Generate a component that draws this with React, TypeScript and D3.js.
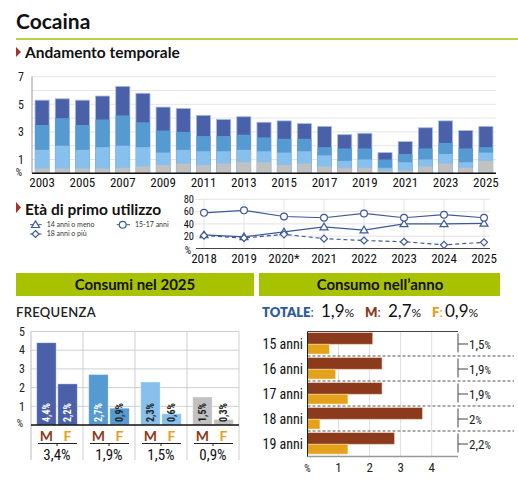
import * as d3 from "d3";
import * as React from "react";

// serie storica (valori in %)
const years = ["2003", "2004", "2005", "2006", "2007", "2008", "2009", "2010", "2011", "2012", "2013", "2014", "2015", "2016", "2017", "2018", "2019", "2020", "2021", "2022", "2023", "2024", "2025"];
const lifetime = [5.3, 5.4, 5.3, 5.6, 6.3, 5.8, 4.8, 4.7, 4.2, 3.9, 4.1, 3.7, 3.8, 3.6, 3.4, 2.8, 2.9, 1.5, 2.3, 3.3, 3.8, 3.1, 3.4];
const lastYear = [3.5, 4.0, 3.5, 3.9, 4.2, 3.7, 3.1, 3.0, 2.7, 2.7, 2.8, 2.6, 2.5, 2.5, 1.9, 1.8, 1.8, 1.0, 1.4, 1.8, 2.2, 1.8, 1.9];
const lastMonth = [1.7, 2.0, 1.7, 1.9, 2.0, 1.9, 1.5, 1.7, 1.6, 1.6, 1.7, 1.6, 1.5, 1.6, 1.3, 0.9, 1.0, 0.4, 0.8, 1.0, 1.4, 0.8, 1.5];
const frequent = [0.35, 0.35, 0.35, 0.35, 0.4, 0.5, 0.6, 0.7, 0.6, 0.7, 0.8, 0.8, 0.6, 0.7, 0.5, 0.4, 0.4, 0.2, 0.2, 0.5, 0.7, 0.4, 0.9];
const topTicks = [1, 3, 5, 7];

// età di primo utilizzo
const lineYears = ["2018", "2019", "2020*", "2021", "2022", "2023", "2024", "2025"];
const under14 = [22, 19, 27, 35, 30, 40, 40, 41];
const age15to17 = [58, 62, 52, 50, 57, 50, 55, 50];
const over18 = [21, 17, 23, 16, 13, 11, 6, 10];
const lineTicks = [20, 40, 60, 80];

// consumi nel 2025 - frequenza
const freqTotals = ["3,4%", "1,9%", "1,5%", "0,9%"];
const freqMale = [4.4, 2.7, 2.3, 1.5];
const freqFemale = [2.2, 0.9, 0.6, 0.3];
const freqMaleLabels = ["4,4%", "2,7%", "2,3%", "1,5%"];
const freqFemaleLabels = ["2,2%", "0,9%", "0,6%", "0,3%"];
const freqTicks = [1, 2, 3, 4, 5];

// consumo nell'anno per età
const ages = ["15 anni", "16 anni", "17 anni", "18 anni", "19 anni"];
const ageMale = [2.1, 2.4, 2.4, 3.7, 2.8];
const ageFemale = [0.7, 0.9, 1.3, 0.4, 1.3];
const ageTotals = ["1,5", "1,9", "1,9", "2", "2,2"];
const ageTicks = [1, 2, 3, 4];

const HEAD = "Lato, 'Noto Sans', sans-serif";
const NUM = "'Liberation Sans Narrow', 'Roboto Condensed', Lato, sans-serif";
const GREEN = "#a9c200";
const LINE = "#3c5a9a";
const levelColors = ["#4a61a9", "#559bd1", "#87c0ec", "#c1c1c1"];
const BROWN = "#8b3b1c";
const ORANGE = "#e4a11b";

function Marker({ x, y, shape }) {
  if (shape === "circle") return <circle cx={x} cy={y} r={3.4} fill="#fff" stroke={LINE} strokeWidth={1.2} />;
  if (shape === "triangle")
    return <path d={`M${x},${y - 3.8}L${x + 4},${y + 2.8}L${x - 4},${y + 2.8}Z`} fill="#fff" stroke={LINE} strokeWidth={1.2} />;
  return <path d={`M${x},${y - 3.5}L${x + 3.5},${y}L${x},${y + 3.5}L${x - 3.5},${y}Z`} fill="#fff" stroke={LINE} strokeWidth={1.2} />;
}

export default function App() {
  // --- andamento temporale
  const x = d3.scaleBand().domain(years).range([32, 496]).paddingInner(0.3).paddingOuter(0.15);
  const y = d3.scaleLinear().domain([0, 7]).range([173.3, 76.7]);
  const levels = [lifetime, lastYear, lastMonth, frequent];

  // --- età di primo utilizzo
  const lx = d3.scalePoint().domain(lineYears).range([204, 484]);
  const ly = d3.scaleLinear().domain([0, 80]).range([248.5, 199.3]);
  const line = d3.line().x((d) => d[0]).y((d) => d[1]);
  const series = [
    { values: under14, shape: "triangle", dash: null },
    { values: age15to17, shape: "circle", dash: null },
    { values: over18, shape: "diamond", dash: "4,3" },
  ];

  // --- frequenza
  const fx = d3.scaleBand().domain(freqTotals).range([31, 239]);
  const fsub = d3.scaleBand().domain(["M", "F"]).range([5.7, 46.3]).paddingInner(0.08);
  const fy = d3.scaleLinear().domain([0, 5]).range([425, 331.5]);

  // --- consumo nell'anno
  const ax = d3.scaleLinear().domain([0, 4]).range([307.5, 431.7]);
  const ay = d3.scaleBand().domain(ages).range([331.5, 456.5]);

  return (
    <svg width={518} height={484} style={{ position: "absolute", left: 0, top: 0, background: "#fff" }}>
      {/* titolo */}
      <text x={16} y={29} fontFamily={HEAD} fontWeight={700} fontSize={21} fill="#111">Cocaina</text>
      <line x1={16} x2={518} y1={39} y2={39} stroke={GREEN} strokeWidth={1.5} />

      <path d="M16,47L21,52L16,57Z" fill="#a4342a" />
      <text x={25} y={58} fontFamily={HEAD} fontWeight={700} fontSize={15.5} fill="#111">Andamento temporale</text>

      {/* griglia */}
      {[1, 2, 3, 4, 5, 6, 7].map((t) => (
        <line key={t} x1={32} x2={496} y1={y(t)} y2={y(t)} stroke="#e6e6e6" />
      ))}
      <line x1={32} x2={32} y1={y(7)} y2={y(0)} stroke="#999" />
      {levels.map((vals, li) =>
        vals.map((v, i) => (
          <rect
            key={li + "-" + i}
            x={x(years[i])}
            y={y(v)}
            width={x.bandwidth()}
            height={y(0) - y(v)}
            fill={levelColors[li]}
            stroke={li === 0 ? "#aabde0" : "none"}
            strokeWidth={0.8}
          />
        ))
      )}
      <line x1={32} x2={496} y1={y(0)} y2={y(0)} stroke="#111" strokeWidth={1.5} />
      {topTicks.map((t) => (
        <text key={t} x={21} y={y(t)} dy="0.35em" textAnchor="middle" fontFamily={NUM} fontSize={12} fill="#222">{t}</text>
      ))}
      <text x={19} y={176} textAnchor="middle" fontFamily={NUM} fontSize={10} fill="#222">%</text>
      {years.filter((d, i) => i % 2 === 0).map((d) => (
        <text key={d} x={x(d) + x.bandwidth() / 2} y={187} textAnchor="middle" fontFamily={NUM} fontSize={13} fill="#111">{d}</text>
      ))}

      {/* età di primo utilizzo */}
      <path d="M16,202L21,207.5L16,213Z" fill="#a4342a" />
      <text x={25} y={215} fontFamily={HEAD} fontWeight={700} fontSize={15.5} fill="#111">Età di primo utilizzo</text>
      <line x1={30} x2={41.7} y1={224.7} y2={224.7} stroke={LINE} />
      <Marker x={35.5} y={224.7} shape="triangle" />
      <text x={46.7} y={227} fontFamily={HEAD} fontSize={7} fill="#333">14 anni o meno</text>
      <line x1={116.7} x2={130} y1={224.7} y2={224.7} stroke={LINE} />
      <Marker x={122.7} y={224.7} shape="circle" />
      <text x={135} y={227} fontFamily={HEAD} fontSize={7} fill="#333">15-17 anni</text>
      <line x1={30} x2={41.7} y1={234} y2={234} stroke={LINE} />
      <Marker x={35.5} y={234} shape="diamond" />
      <text x={46.7} y={236.3} fontFamily={HEAD} fontSize={7} fill="#333">18 anni o più</text>

      {lineTicks.map((t) => (
        <line key={t} x1={196} x2={490} y1={ly(t)} y2={ly(t)} stroke="#e3e3e3" />
      ))}
      {lineYears.map((d) => (
        <line key={d} x1={lx(d)} x2={lx(d)} y1={ly(80)} y2={ly(0)} stroke="#e3e3e3" />
      ))}
      <line x1={196} x2={490} y1={ly(0)} y2={ly(0)} stroke="#444" strokeWidth={1.2} />
      {lineTicks.map((t) => (
        <text key={t} x={194} y={ly(t)} dy="0.35em" textAnchor="end" fontFamily={NUM} fontSize={10.5} fill="#111">{t}</text>
      ))}
      <text x={188} y={254} textAnchor="middle" fontFamily={NUM} fontSize={10} fill="#111">%</text>
      {lineYears.map((d) => (
        <text key={d} x={lx(d)} y={263} textAnchor="middle" fontFamily={NUM} fontSize={13} fill="#111">{d}</text>
      ))}
      {series.map((s, si) => (
        <g key={si}>
          <path
            d={line(s.values.map((v, i) => [lx(lineYears[i]), ly(v)]))}
            fill="none"
            stroke={LINE}
            strokeWidth={1.2}
            strokeDasharray={s.dash || undefined}
          />
          {s.values.map((v, i) => (
            <Marker key={i} x={lx(lineYears[i])} y={ly(v)} shape={s.shape} />
          ))}
        </g>
      ))}

      {/* consumi nel 2025 */}
      <rect x={16} y={273} width={238} height={23} fill={GREEN} />
      <text x={135} y={290} textAnchor="middle" fontFamily={HEAD} fontWeight={700} fontSize={15} fill="#111">Consumi nel 2025</text>
      <text x={16} y={317} fontFamily={HEAD} fontWeight={600} fontSize={13} letterSpacing={0.3} fill="#222">FREQUENZA</text>

      {freqTicks.map((t) => (
        <line key={t} x1={31} x2={239} y1={fy(t)} y2={fy(t)} stroke="#cfcfcf" />
      ))}
      {freqTotals.map((d) => (
        <line key={d} x1={fx(d) + fx.bandwidth()} x2={fx(d) + fx.bandwidth()} y1={fy(5)} y2={460} stroke="#cfcfcf" />
      ))}
      <line x1={31} x2={31} y1={fy(5)} y2={460} stroke="#bbb" />
      {freqTotals.map((d, i) => {
        const g0 = fx(d);
        const bars = [
          { k: "M", v: freqMale[i], lab: freqMaleLabels[i], white: i === 0 || i === 1 },
          { k: "F", v: freqFemale[i], lab: freqFemaleLabels[i], white: i === 0 },
        ];
        return (
          <g key={d}>
            {bars.map((b) => {
              const bx = g0 + fsub(b.k);
              const cx = bx + fsub.bandwidth() / 2;
              return (
                <g key={b.k}>
                  <rect x={bx} y={fy(b.v)} width={fsub.bandwidth()} height={fy(0) - fy(b.v)} fill={levelColors[i]} stroke="#fff" strokeOpacity={0.5} strokeWidth={0.8} />
                  <text
                    transform={`translate(${cx},${fy(0) - 3}) rotate(-90)`}
                    dy="0.35em"
                    fontFamily={NUM}
                    fontWeight={700}
                    fontSize={10}
                    fill={b.white ? "#fff" : "#222"}
                  >
                    {b.lab}
                  </text>
                  <text x={cx} y={441} textAnchor="middle" fontFamily={HEAD} fontWeight={700} fontSize={14} fill={b.k === "M" ? BROWN : ORANGE}>{b.k}</text>
                </g>
              );
            })}
            <line x1={g0 + 7} x2={g0 + 46} y1={443.5} y2={443.5} stroke="#222" />
            <line x1={g0 + 26} x2={g0 + 26} y1={443.5} y2={446} stroke="#222" />
            <text x={g0 + 26} y={460} textAnchor="middle" fontFamily={NUM} fontSize={15} fill="#111">{d}</text>
          </g>
        );
      })}
      <line x1={31} x2={239} y1={fy(0)} y2={fy(0)} stroke="#111" strokeWidth={1.5} />
      {freqTicks.map((t) => (
        <text key={t} x={22} y={fy(t)} dy="0.35em" textAnchor="middle" fontFamily={NUM} fontSize={12} fill="#222">{t}</text>
      ))}
      <text x={20} y={427} textAnchor="middle" fontFamily={NUM} fontSize={10} fill="#222">%</text>

      {/* consumo nell'anno */}
      <rect x={259} y={273} width={241} height={23} fill={GREEN} />
      <text x={380} y={290} textAnchor="middle" fontFamily={HEAD} fontWeight={700} fontSize={15} fill="#111">Consumo nell’anno</text>
      <text y={317} fontFamily={HEAD} fill="#111">
        <tspan x={262} fontWeight={800} fontSize={13} fill="#2e5b9c">TOTALE</tspan>
        <tspan fontSize={13} fill="#2e5b9c">:</tspan>
        <tspan x={321} fontSize={17}>1,9</tspan>
        <tspan fontSize={12}>%</tspan>
        <tspan x={365} fontWeight={800} fontSize={13} fill={BROWN}>M</tspan>
        <tspan fontSize={13} fill={BROWN}>:</tspan>
        <tspan x={388} fontSize={17}>2,7</tspan>
        <tspan fontSize={12}>%</tspan>
        <tspan x={432} fontWeight={800} fontSize={13} fill={ORANGE}>F</tspan>
        <tspan fontSize={13} fill={ORANGE}>:</tspan>
        <tspan x={445} fontSize={17}>0,9</tspan>
        <tspan fontSize={12}>%</tspan>
      </text>

      {ageTicks.map((t) => (
        <line key={t} x1={ax(t)} x2={ax(t)} y1={331.5} y2={456.5} stroke="#dedede" />
      ))}
      {ages.map((a, i) => {
        const top = ay(a);
        return (
          <g key={a}>
            <rect x={ax(0)} y={top + 1.2} width={ax(ageMale[i]) - ax(0)} height={11.5} fill={BROWN} stroke="#e8c8b8" strokeWidth={0.6} />
            <rect x={ax(0)} y={top + 12.7} width={ax(ageFemale[i]) - ax(0)} height={9.8} fill={ORANGE} stroke="#f6dca0" strokeWidth={0.6} />
            <text x={303} y={top + 12.5} dy="0.35em" textAnchor="end" fontFamily={NUM} fontSize={14} fill="#111">{a}</text>
            <line x1={458} x2={458} y1={top + 2} y2={top + 21} stroke="#444" />
            <line x1={458} x2={468} y1={top + 12.5} y2={top + 12.5} stroke="#444" />
            <text x={469} y={top + 12.5} dy="0.35em" fontFamily={NUM} fontSize={13} fill="#222">
              {ageTotals[i]}
              <tspan fontSize={10}>%</tspan>
            </text>
            {i > 0 && <line x1={ax(0)} x2={514} y1={top - 0.5} y2={top - 0.5} stroke="#555" strokeDasharray="3,2" />}
          </g>
        );
      })}
      <line x1={ax(0)} x2={458} y1={331.5} y2={331.5} stroke="#444" />
      <line x1={ax(0)} x2={458} y1={456.5} y2={456.5} stroke="#999" strokeWidth={1.5} />
      <line x1={ax(0)} x2={ax(0)} y1={331.5} y2={456.5} stroke="#222" />
      <text x={ax(0)} y={472} textAnchor="middle" fontFamily={NUM} fontSize={10} fill="#222">%</text>
      {ageTicks.map((t) => (
        <text key={t} x={ax(t)} y={472} textAnchor="middle" fontFamily={NUM} fontSize={13} fill="#222">{t}</text>
      ))}
    </svg>
  );
}
